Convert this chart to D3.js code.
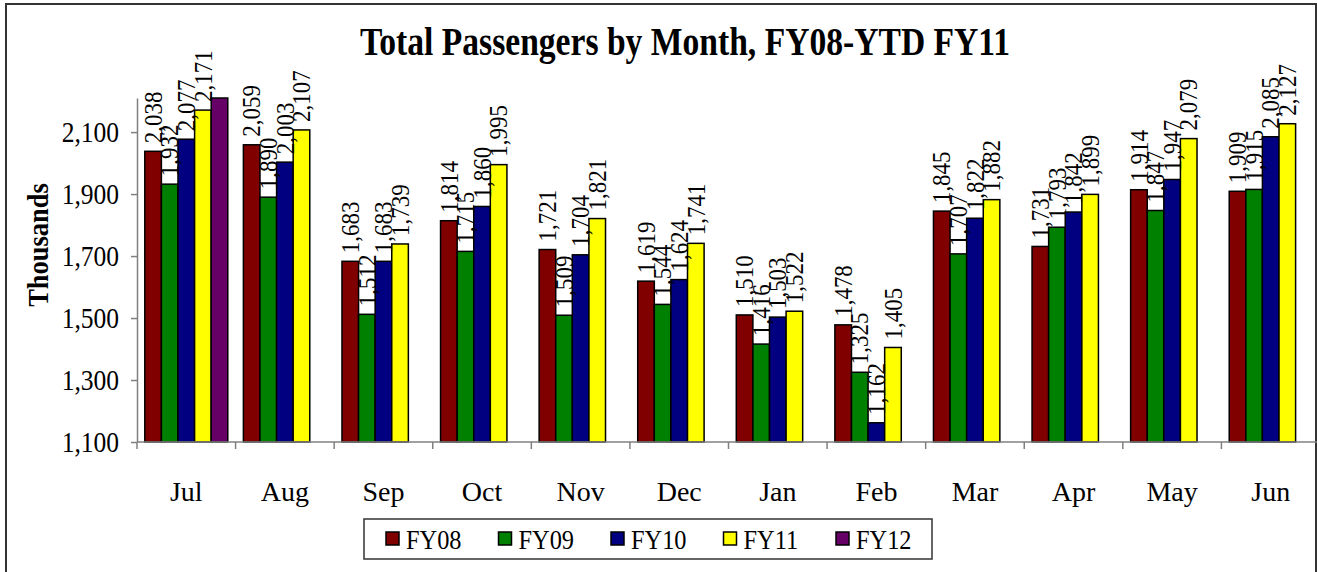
<!DOCTYPE html>
<html>
<head>
<meta charset="utf-8">
<script src="https://cdn.jsdelivr.net/npm/d3@7"></script>
<style>
body{margin:0;background:#fff;}
text{font-family:"Liberation Serif","Times New Roman",serif;fill:#000;}
</style>
</head>
<body>
<div id="chart"></div>
<script>
var months = ['Jul','Aug','Sep','Oct','Nov','Dec','Jan','Feb','Mar','Apr','May','Jun'];
var seriesNames = ['FY08','FY09','FY10','FY11','FY12'];
var fy08 = [2038,2059,1683,1814,1721,1619,1510,1478,1845,1731,1914,1909];
var fy09 = [1932,1890,1512,1715,1509,1544,1416,1325,1707,1793,1847,1915];
var fy10 = [2077,2003,1683,1860,1704,1624,1503,1162,1822,1842,1947,2085];
var fy11 = [2171,2107,1739,1995,1821,1741,1522,1405,1882,1899,2079,2127];
var fy12 = [2210,null,null,null,null,null,null,null,null,null,null,null];
var yTicks = [1100,1300,1500,1700,1900,2100];

var allSeries = [fy08, fy09, fy10, fy11, fy12];
var colors = ['#800000','#008000','#000080','#ffff00','#660066'];
var showLabels = [true, true, true, true, false];

var width = 1317, height = 572;
var plotLeft = 137, plotRight = 1320, plotTop = 98, plotBottom = 442;

var svg = d3.select('#chart')
    .append('svg')
    .attr('width', width)
    .attr('height', height);

// chart border
svg.append('rect')
    .attr('x', 6).attr('y', 4)
    .attr('width', 1310).attr('height', 620)
    .attr('fill', 'none')
    .attr('stroke', '#333')
    .attr('stroke-width', 2);

var x = d3.scaleBand().domain(months).range([plotLeft, plotRight]).paddingInner(0);
var xs = d3.scaleBand().domain(seriesNames).range([0, x.bandwidth()]).paddingInner(0).paddingOuter(0.47);
var y = d3.scaleLinear().domain([1100, 2210]).range([plotBottom, plotTop]);

// y axis
var yAxis = svg.append('g')
    .attr('transform', 'translate(' + plotLeft + ',0)')
    .call(d3.axisLeft(y).tickValues(yTicks).tickSize(6).tickSizeOuter(0).tickPadding(12).tickFormat(d3.format(',')));
yAxis.select('.domain').attr('stroke', '#808080').attr('stroke-width', 1.5);
yAxis.selectAll('line').attr('stroke', '#808080').attr('stroke-width', 1.5);
yAxis.selectAll('text')
    .attr('font-family', '"Liberation Serif", serif')
    .attr('font-size', 25.5)
    .attr('transform', 'scale(1,1.16)');

// bars
var rows = months.map(function(m, i){
  return seriesNames.map(function(s, j){ return {month: m, series: s, idx: j, value: allSeries[j][i]}; })
    .filter(function(d){ return d.value != null; });
});

var groups = svg.selectAll('.grp')
    .data(rows)
    .enter().append('g')
    .attr('class', 'grp')
    .attr('transform', function(d, i){ return 'translate(' + x(months[i]) + ',0)'; });

groups.selectAll('rect')
    .data(function(d){ return d; })
    .enter().append('rect')
    .attr('x', function(d){ return xs(d.series); })
    .attr('y', function(d){ return y(d.value); })
    .attr('width', xs.bandwidth())
    .attr('height', function(d){ return y(1100) - y(d.value); })
    .attr('fill', function(d){ return colors[d.idx]; })
    .attr('stroke', '#000')
    .attr('stroke-width', 1.5);

groups.selectAll('text')
    .data(function(d){ return d.filter(function(e){ return showLabels[e.idx]; }); })
    .enter().append('text')
    .attr('transform', function(d){
      return 'translate(' + (xs(d.series) + xs.bandwidth() / 2) + ',' + (y(d.value) - 8) + ') rotate(-90) scale(1,1.08)';
    })
    .attr('dy', '0.35em')
    .attr('font-size', 23)
    .text(function(d){ return d3.format(',')(d.value); });

// x axis
svg.append('line')
    .attr('x1', plotLeft).attr('x2', plotRight)
    .attr('y1', plotBottom).attr('y2', plotBottom)
    .attr('stroke', '#808080').attr('stroke-width', 1.5);

var bounds = months.map(function(m){ return x(m); });
svg.selectAll('.xtick')
    .data(bounds)
    .enter().append('line')
    .attr('class', 'xtick')
    .attr('x1', function(d){ return d; }).attr('x2', function(d){ return d; })
    .attr('y1', plotBottom).attr('y2', plotBottom + 7)
    .attr('stroke', '#808080').attr('stroke-width', 1.5);

svg.selectAll('.xlab')
    .data(months)
    .enter().append('text')
    .attr('class', 'xlab')
    .attr('x', function(d){ return x(d) + x.bandwidth() / 2; })
    .attr('y', 501)
    .attr('text-anchor', 'middle')
    .attr('font-size', 28)
    .text(function(d){ return d; });

// title
svg.append('text')
    .attr('transform', 'translate(685,55) scale(1,1.2)')
    .attr('text-anchor', 'middle')
    .attr('font-size', 33.6)
    .attr('font-weight', 'bold')
    .text('Total Passengers by Month, FY08-YTD FY11');

svg.append('text')
    .attr('transform', 'translate(48,245) rotate(-90) scale(1,1.15)')
    .attr('text-anchor', 'middle')
    .attr('font-size', 26.5)
    .attr('font-weight', 'bold')
    .text('Thousands');

// legend
var legend = svg.append('g');
legend.append('rect')
    .attr('x', 364).attr('y', 519)
    .attr('width', 568).attr('height', 40)
    .attr('fill', '#fff')
    .attr('stroke', '#333')
    .attr('stroke-width', 1.5);

var item = legend.selectAll('.item')
    .data(seriesNames)
    .enter().append('g')
    .attr('class', 'item')
    .attr('transform', function(d, i){ return 'translate(' + (386 + i * 112.5) + ',0)'; });

item.append('rect')
    .attr('x', 0).attr('y', 532)
    .attr('width', 13).attr('height', 13)
    .attr('fill', function(d, i){ return colors[i]; })
    .attr('stroke', '#000')
    .attr('stroke-width', 1.5);

item.append('text')
    .attr('transform', 'translate(20,549) scale(1,1.15)')
    .attr('font-size', 24.4)
    .text(function(d){ return d; });
</script>
</body>
</html>
